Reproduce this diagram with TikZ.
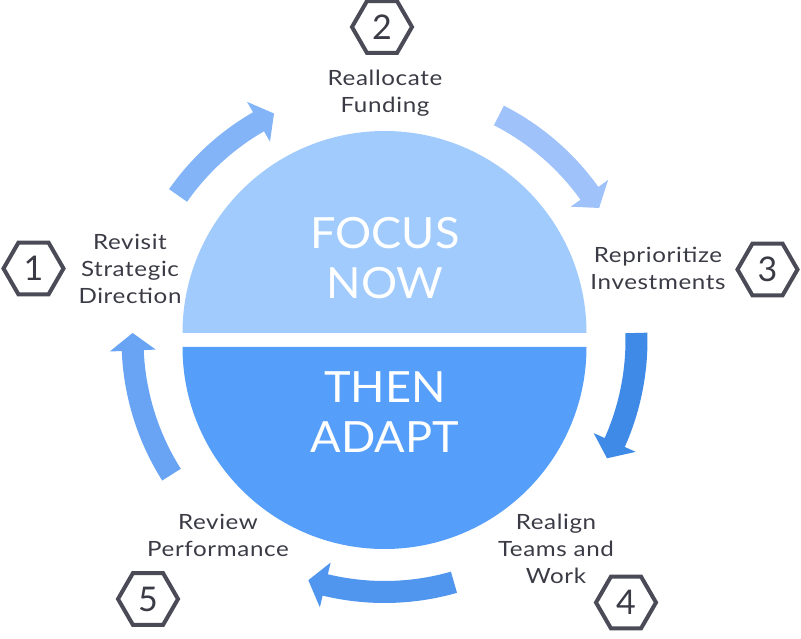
\documentclass[tikz,border=0pt]{standalone}
\usepackage{fontspec}
\setmainfont{Lato}
\newfontfamily\labelfont{Lato}[FakeStretch=1.15, LetterSpace=3]
\newfontfamily\bigfont{Lato}[FakeStretch=1.05]
\usetikzlibrary{shapes.geometric}
\definecolor{focusblue}{HTML}{A1CBFC}
\definecolor{adaptblue}{HTML}{559EFA}
\definecolor{arrowone}{HTML}{83B4F8}
\definecolor{arrowtwo}{HTML}{9FC2FB}
\definecolor{arrowthree}{HTML}{3E8AE6}
\definecolor{arrowfour}{HTML}{5095EE}
\definecolor{arrowfive}{HTML}{68A4F3}
\definecolor{hexgray}{HTML}{4A4B57}
\definecolor{labelgray}{HTML}{3A3B45}
\tikzset{
    stephex/.style = {
        regular polygon,
        regular polygon sides = 6,
        draw = hexgray,
        line width = 4pt,
        minimum size = 60pt,
        inner sep = 0pt,
        text = labelgray,
        font = \fontsize{34}{34}\selectfont,
    },
    steplabel/.style = {
        align = center,
        inner sep = 0pt,
        text = labelgray,
        font = \labelfont\fontsize{21}{27}\selectfont,
    },
    bigtext/.style = {
        align = center,
        inner sep = 0pt,
        text = white,
        font = \bigfont\fontsize{43}{50}\selectfont,
    }
}
% curved arrow: colour, tail angle, tip angle (clockwise)
\newcommand{\cyclearrow}[3]{%
  \fill[#1] (#2:263pt) arc[start angle=#2, end angle={#3+4}, radius=263pt]
    -- ({#3+4}:275pt) -- (#3:252pt) -- ({#3+4}:229pt) -- ({#3+4}:241pt)
    arc[start angle={#3+4}, end angle=#2, radius=241pt] -- cycle;}

\begin{document}
\begin{tikzpicture}[x=1pt, y=1pt]
  \useasboundingbox (0,0) rectangle (801,638);

  % Two halves of the circle
  \fill[focusblue] (182.5,305) arc[start angle=180, end angle=0, radius=202pt] -- cycle;
  \fill[adaptblue] (182.5,291) arc[start angle=180, end angle=360, radius=202pt] -- cycle;
  \node[bigtext] (focus) at (385,380)   {FOCUS\\NOW};
  \node[bigtext] (adapt) at (385,225.5) {THEN\\ADAPT};

  % Arrows round the circle
  \coordinate (c) at (384.5,298);
  \begin{scope}[shift={(c)}]
    \cyclearrow{arrowone}{145}{116}
    \cyclearrow{arrowtwo}{63}{31.6}
    \cyclearrow{arrowthree}{1.6}{-28}
    \cyclearrow{arrowfour}{-74}{-107.6}
    \cyclearrow{arrowfive}{-147.7}{-181.6}
  \end{scope}

  % Numbered steps
  \node[stephex] (s1) at (33.5,369.5) {1};
  \node[stephex] (s2) at (382,611)    {2};
  \node[stephex] (s3) at (767.5,368.5) {3};
  \node[stephex] (s4) at (626,35.5)   {4};
  \node[stephex] (s5) at (148,39)     {5};

  % Step labels
  \node[steplabel] (l1) at (130,369.5) {Revisit\\Strategic\\Direction};
  \node[steplabel] (l2) at (385,545)   {Reallocate\\Funding};
  \node[steplabel] (l3) at (658,370)   {Reprioritize\\Investments};
  \node[steplabel] (l4) at (556,89.5)  {Realign\\Teams and\\Work};
  \node[steplabel] (l5) at (218,103)   {Review\\Performance};

\end{tikzpicture}
\end{document}
